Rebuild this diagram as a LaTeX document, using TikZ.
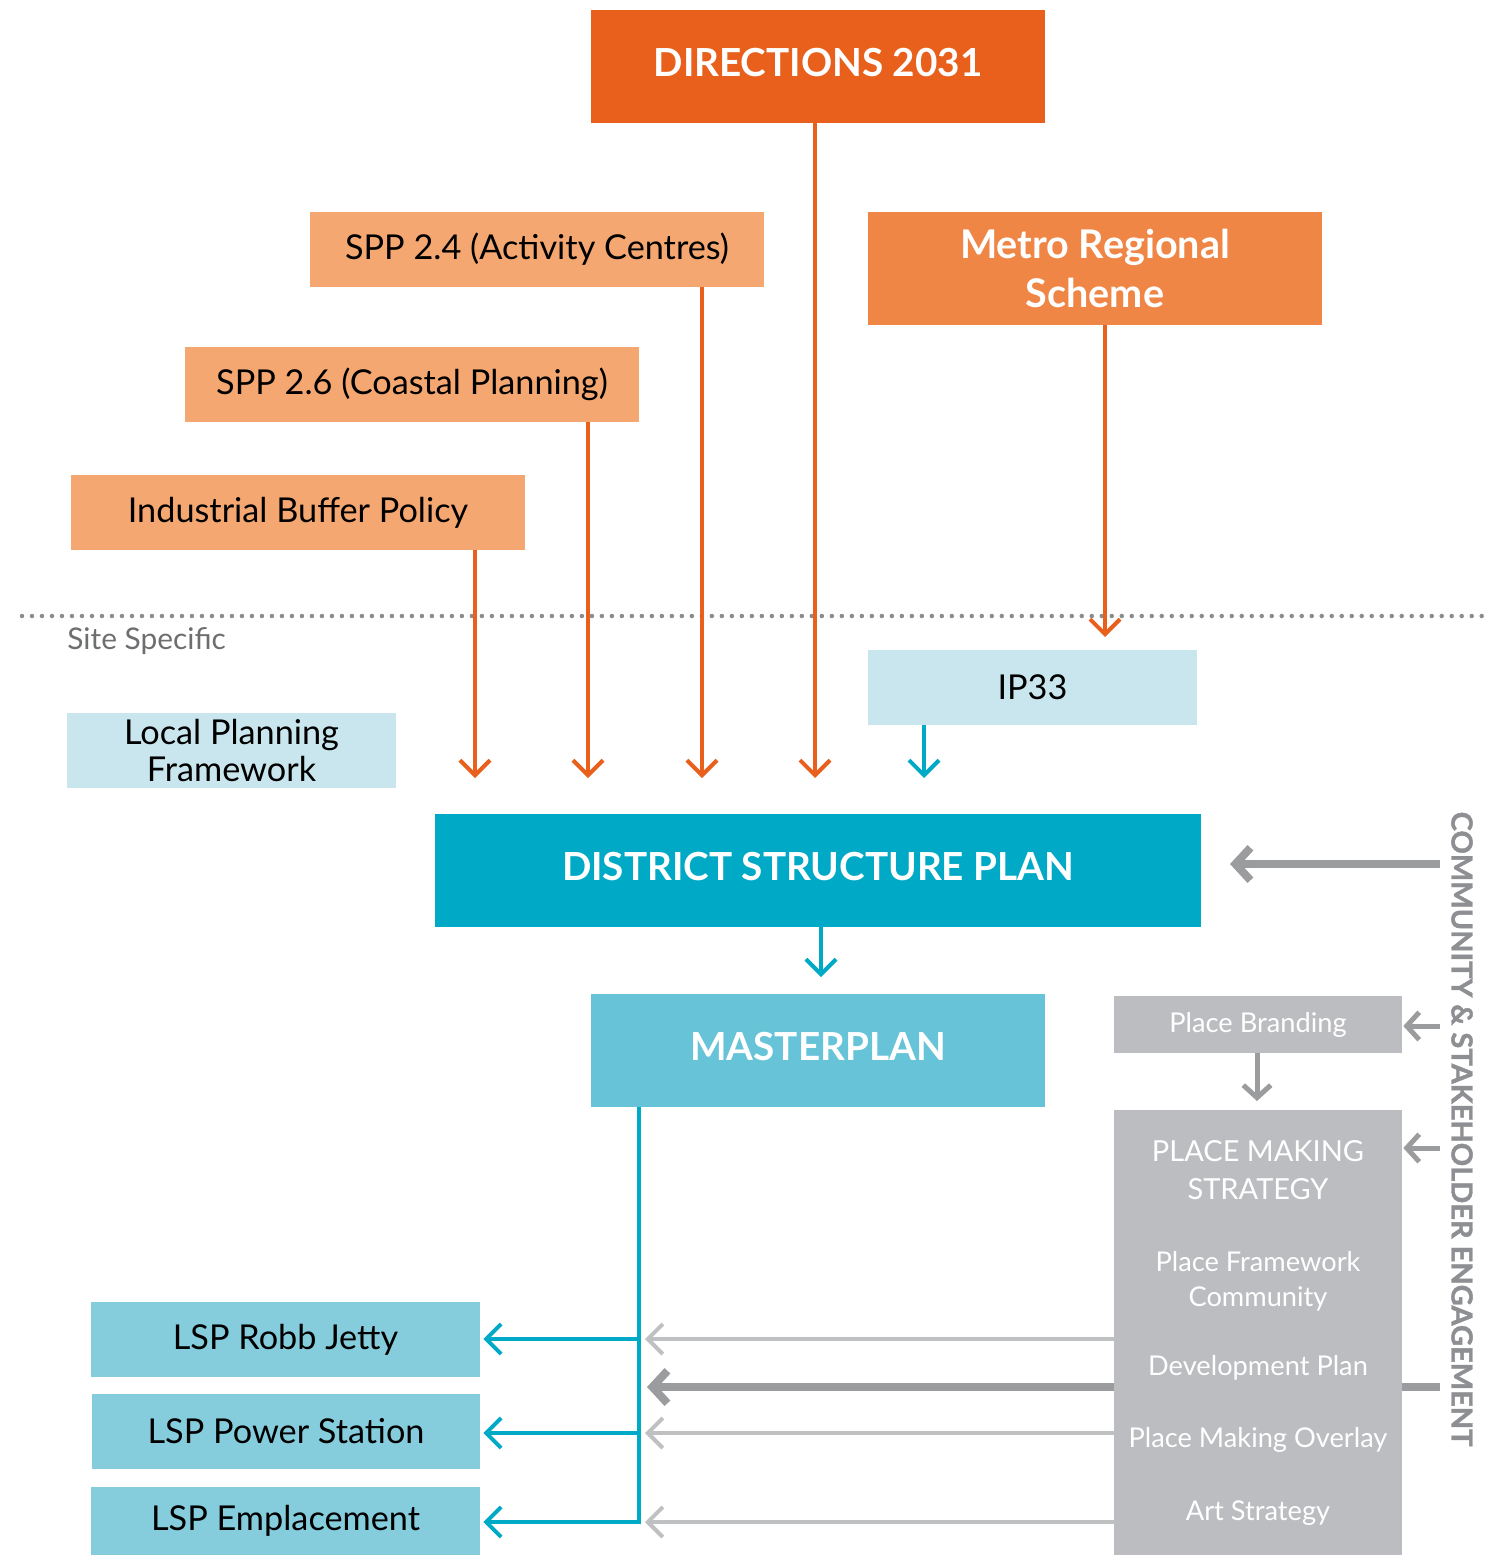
\documentclass[tikz,border=0pt]{standalone}
\usepackage{fontspec}
\setmainfont{Lato}
\newfontfamily\commfont[BoldFeatures={FakeBold=1.4}]{Lato}
\usetikzlibrary{arrows.meta}
\definecolor{dirO}{HTML}{E8601C}
\definecolor{metroO}{HTML}{EF8646}
\definecolor{lightO}{HTML}{F4A770}
\definecolor{tealC}{HTML}{00A9C5}
\definecolor{masterC}{HTML}{67C3D7}
\definecolor{lspC}{HTML}{85CCDC}
\definecolor{paleC}{HTML}{C9E6EE}
\definecolor{greyBox}{HTML}{BCBDC0}
\definecolor{darkG}{HTML}{9B9C9E}
\definecolor{lightG}{HTML}{BFC0C2}
\definecolor{textG}{HTML}{6D6E70}
\definecolor{commG}{HTML}{8E8F92}
\newcommand{\upraise}[1]{\raisebox{0.16cm}{#1}}
\tikzset{
  box/.style={rectangle, inner sep=0pt, align=center},
  bigtxt/.style={font=\fontsize{22}{27}\selectfont\bfseries, text=white},
  midtxt/.style={font=\fontsize{19.5}{23}\selectfont, text=black},
  greytxt/.style={font=\fontsize{15.5}{20}\selectfont, text=white},
  oarrow/.style={draw=dirO, line width=0.08cm, -{Straight Barb[length=0.3cm, width=0.6cm]}},
  tarrow/.style={draw=tealC, line width=0.08cm, -{Straight Barb[length=0.3cm, width=0.6cm]}},
  tline/.style={draw=tealC, line width=0.08cm},
  lgarrow/.style={draw=lightG, line width=0.08cm, -{Straight Barb[length=0.3cm, width=0.6cm]}},
  dgarrow/.style={draw=darkG, line width=0.16cm, -{Straight Barb[length=0.3cm, width=0.65cm]}},
  dgarrowS/.style={draw=darkG, line width=0.1cm, -{Straight Barb[length=0.25cm, width=0.55cm]}},
  dgline/.style={draw=darkG, line width=0.16cm},
}
\begin{document}
\begin{tikzpicture}[x=0.02cm, y=-0.02cm]
\useasboundingbox (0,0) rectangle (1490,1555);
% boxes
\node[box, fill=dirO, minimum width=9.08cm, minimum height=2.26cm, bigtxt] (dir) at (818,66.5) {\upraise{DIRECTIONS 2031}};
\node[box, fill=lightO, minimum width=9.08cm, minimum height=1.5cm, midtxt] (spp24) at (537,249.5) {SPP 2.4 (Activity Centres)};
\node[box, fill=metroO, minimum width=9.08cm, minimum height=2.26cm, bigtxt, font=\fontsize{22.5}{28}\selectfont\bfseries] (metro) at (1095,268.5) {Metro Regional\\Scheme};
\node[box, fill=lightO, minimum width=9.08cm, minimum height=1.5cm, midtxt] (spp26) at (412,384.5) {SPP 2.6 (Coastal Planning)};
\node[box, fill=lightO, minimum width=9.08cm, minimum height=1.5cm, midtxt] (ibp) at (298,512.5) {Industrial Buffer Policy};
% dotted separator
\coordinate (dl) at (22,616);
\coordinate (dr) at (1490,616);
\draw[textG!80, line width=0.09cm, dash pattern=on 0pt off 0.2cm, line cap=round] (dl) -- (dr);
\node[anchor=west, font=\fontsize{17}{20}\selectfont, text=textG, inner sep=0pt] (site) at (67,641) {Site Specific};
\node[box, fill=paleC, minimum width=6.58cm, minimum height=1.5cm, midtxt] (ip33) at (1032.5,687.5) {IP33};
\node[box, fill=paleC, minimum width=6.58cm, minimum height=1.5cm, midtxt, font=\fontsize{19.5}{21}\selectfont] (lpf) at (231.5,750.5) {Local Planning\\Framework};
\node[box, fill=tealC, minimum width=15.32cm, minimum height=2.26cm, bigtxt] (dsp) at (818,870.5) {\upraise{DISTRICT STRUCTURE PLAN}};
\node[box, fill=masterC, minimum width=9.08cm, minimum height=2.26cm, bigtxt] (master) at (818,1050.5) {\upraise{MASTERPLAN}};
\node[box, fill=greyBox, minimum width=5.76cm, minimum height=1.14cm, greytxt] (brand) at (1258,1024.5) {Place Branding};
\node[box, fill=greyBox, minimum width=5.76cm, minimum height=8.9cm] (pms) at (1258,1332.5) {};
\node[greytxt, font=\fontsize{16.5}{21.5}\selectfont, align=center] (pmsT) at (1258,1170) {PLACE MAKING\\STRATEGY};
\node[greytxt, align=center, font=\fontsize{15.5}{19.8}\selectfont] (pf) at (1258,1281) {Place Framework\\Community};
\node[greytxt] (dp) at (1258,1368) {Development Plan};
\node[greytxt] (pmo) at (1258,1440) {Place Making Overlay};
\node[greytxt] (art) at (1258,1513) {Art Strategy};
\node[box, fill=lspC, minimum width=7.78cm, minimum height=1.5cm, midtxt] (robb) at (285.5,1339.5) {LSP Robb Jetty};
\node[box, fill=lspC, minimum width=7.76cm, minimum height=1.5cm, midtxt] (power) at (286,1431.5) {LSP Power Station};
\node[box, fill=lspC, minimum width=7.78cm, minimum height=1.36cm, midtxt] (empl) at (285.5,1521) {LSP Emplacement};
\node[rotate=-90, font=\commfont\fontsize{16.5}{20}\selectfont\bfseries, text=commG, inner sep=0pt] (comm) at (1462,1129) {COMMUNITY \& STAKEHOLDER ENGAGEMENT};
% orange arrows
\coordinate (e1) at (475,778);
\coordinate (e2) at (588,778);
\coordinate (e3) at (702,778);
\coordinate (e4) at (815,778);
\coordinate (e5) at (1105,637);
\coordinate (e6) at (924,778);
\draw[oarrow] (ibp.south -| e1) -- (e1);
\draw[oarrow] (spp26.south -| e2) -- (e2);
\draw[oarrow] (spp24.south -| e3) -- (e3);
\draw[oarrow] (dir.south -| e4) -- (e4);
\draw[oarrow] (metro.south -| e5) -- (e5);
\draw[tarrow] (ip33.south -| e6) -- (e6);
% DSP to masterplan
\coordinate (e7) at (821,977);
\draw[tarrow] (dsp.south -| e7) -- (e7);
% teal distribution
\coordinate (t0) at (639,1522);
\coordinate (t1) at (639,1339);
\coordinate (t2) at (639,1433);
\draw[tline] (master.south -| t0) -- (t0);
\draw[tarrow] (t1) -- ([xshift=0.06cm]robb.east |- t1);
\draw[tarrow] (t2) -- ([xshift=0.06cm]power.east |- t2);
\draw[tarrow] ([xshift=0.04cm]t0) -- ([xshift=0.06cm]empl.east |- t0);
% grey arrows from place making strategy
\coordinate (g1) at (645,1339);
\coordinate (g2) at (647,1387);
\coordinate (g3) at (645,1433);
\coordinate (g4) at (645,1522);
\draw[lgarrow] (pms.west |- g1) -- (g1);
\draw[dgarrow] (pms.west |- g2) -- (g2);
\draw[lgarrow] (pms.west |- g3) -- (g3);
\draw[lgarrow] (pms.west |- g4) -- (g4);
% community engagement arrows
\coordinate (c1) at (1440,864);
\coordinate (c2) at (1440,1026);
\coordinate (c3) at (1440,1148);
\coordinate (c4) at (1440,1387);
\coordinate (a1) at (1230,864);
\draw[dgarrow] (c1) -- (a1);
\draw[dgarrowS] (c2) -- ([xshift=0.02cm]brand.east |- c2);
\draw[dgarrowS] (c3) -- ([xshift=0.02cm]pms.east |- c3);
\draw[dgline] (c4) -- (pms.east |- c4);
% place branding to strategy
\coordinate (b1) at (1257,1101);
\draw[dgarrowS] (brand.south -| b1) -- (b1);
\end{tikzpicture}
\end{document}
